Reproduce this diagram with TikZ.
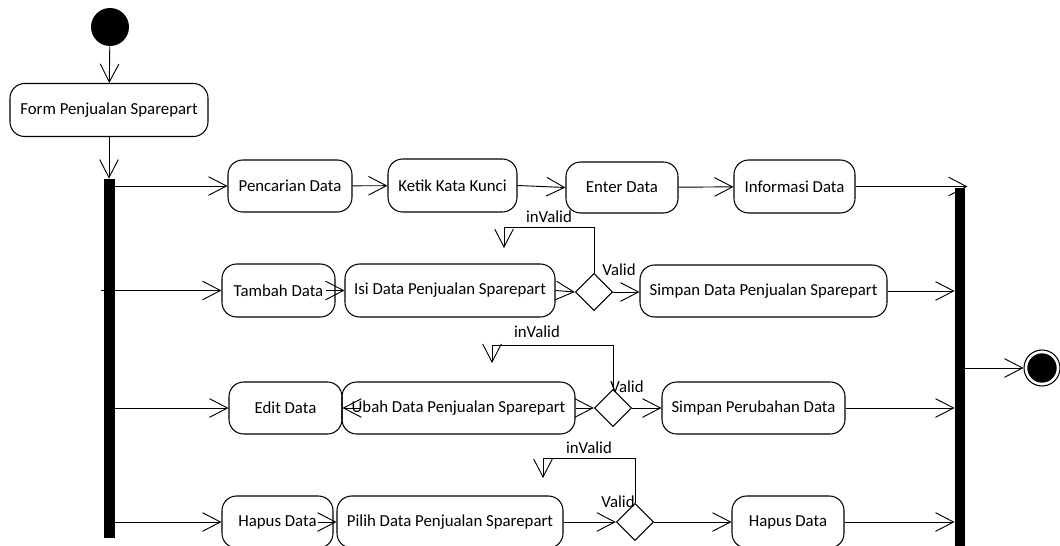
\documentclass[tikz,border=0pt]{standalone}
\usepackage{fontspec}
\setmainfont{Carlito}
\usetikzlibrary{arrows.meta,shapes.geometric}
\begin{document}
\begin{tikzpicture}[x=0.75pt,y=-0.75pt,
  font=\fontsize{12.6}{14}\selectfont,
  line width=0.7pt,
  act/.style={draw,rounded corners=11pt,minimum height=39pt,inner sep=0pt,line width=0.8pt},
  dec/.style={draw,diamond,aspect=1,minimum size=28pt,inner sep=0pt,line width=0.8pt},
  barnode/.style={fill=black,draw=none,inner sep=0pt},
  arr/.style={-{Straight Barb[length=13.5pt,width=14pt,line width=0.7pt]}},
  lbl/.style={inner sep=0pt}]
\useasboundingbox (0,0) rectangle (1060,546);

% start / end
\node[circle,fill=black,minimum size=28.5pt,inner sep=0pt] (start) at (110,27) {};
\node[circle,draw,line width=0.8pt,minimum size=27pt,inner sep=0pt] (end) at (1042,368) {};
\fill (end.center) circle (11pt);

% bars
\node[barnode,minimum width=8.25pt,minimum height=269.25pt] (forkL) at (109.5,358.5) {};
\node[barnode,minimum width=7.5pt,minimum height=271.5pt] (forkR) at (960,369) {};

% activities
\node[act,minimum width=148.5pt,minimum height=39.75pt] (form) at (109,110) {Form Penjualan Sparepart};
\node[act,minimum width=93pt] (penc) at (290,186) {Pencarian Data};
\node[act,minimum width=96.75pt,minimum height=39.75pt] (ketik) at (452.5,185.5) {Ketik Kata Kunci};
\node[act,minimum width=84pt,minimum height=38.25pt] (enter) at (622,187.5) {Enter Data};
\node[act,minimum width=90.75pt,minimum height=39.75pt] (info) at (794.5,186.5) {Informasi Data};

\node[act,minimum width=84.75pt,minimum height=39.75pt] (tambah) at (278.5,290.5) {Tambah Data};
\node[act,minimum width=157.5pt,minimum height=39.75pt] (isi) at (450,290.5) {Isi Data Penjualan Sparepart};
\node[dec] (d1) at (594,292) {};
\node[act,minimum width=185.25pt] (simp1) at (763.5,291) {Simpan Data Penjualan Sparepart};

\node[act,minimum width=84.75pt] (edit) at (285.5,408) {Edit Data};
\node[act,minimum width=174.75pt] (ubah) at (458.5,408) {Ubah Data Penjualan Sparepart};
\node[dec] (d2) at (613,408) {};
\node[act,minimum width=137.25pt] (simpper) at (753.5,408) {Simpan Perubahan Data};

\node[act,minimum width=83.25pt] (hapus1) at (277.5,522) {Hapus Data};
\node[act,minimum width=169.5pt] (pilih) at (450,522) {Pilih Data Penjualan Sparepart};
\node[dec] (d3) at (635,522) {};
\node[act,minimum width=84pt] (hapus2) at (788,522) {Hapus Data};

% labels
\node[lbl] (iv1) at (549,217) {inValid};
\node[lbl] (v1) at (619,270) {Valid};
\node[lbl] (iv2) at (537,332) {inValid};
\node[lbl] (v2) at (627,387) {Valid};
\node[lbl] (iv3) at (589,448) {inValid};
\node[lbl] (v3) at (618,502) {Valid};

% loop coordinates
\coordinate (k1) at (504,227);
\coordinate (c1) at (504,248);
\coordinate (k2) at (492,345);
\coordinate (c2) at (492,363);
\coordinate (k3) at (543,458);
\coordinate (c3) at (543,478);

% connectors
\draw[arr] (start) -- (form);
\draw[arr] (form.south) -- (form.south |- forkL.north);
\draw[arr] (penc.west -| forkL.east) -- (penc.west);
\draw[arr] ([xshift=-2pt]tambah.west -| forkL.west) -- (tambah.west);
\draw[arr] (edit.west -| forkL.east) -- (edit.west);
\draw[arr] (hapus1.west -| forkL.east) -- (hapus1.west);

\draw[arr] (penc) -- (ketik);
\draw[arr] (ketik.east) -- (enter.west);
\draw[arr] (enter) -- (info);
\draw[arr] (info.east) -- ([xshift=1.5pt]info.east -| forkR.east);

\draw[arr] ([xshift=-14pt]isi.west) -- (isi.west);
\draw[arr] (isi.east) -- (d1.west);
\draw[arr] (d1.east) -- (d1.east -| simp1.west);
\draw[arr] (simp1.east) -- (simp1.east -| forkR.west);
\draw[arr] (d1.north) |- (k1) -- (c1);

\draw[arr] ([xshift=14pt]ubah.west) -- (edit.east);
\draw[arr] (ubah.east) -- (d2.west);
\draw[arr] (d2.east) -- (simpper.west);
\draw[arr] (simpper.east) -- (simpper.east -| forkR.west);
\draw[arr] (d2.north) |- (k2) -- (c2);

\draw[arr] ([xshift=-14pt]pilih.west) -- (pilih.west);
\draw[arr] (pilih.east) -- (d3.west);
\draw[arr] (d3.east) -- (hapus2.west);
\draw[arr] (hapus2.east) -- (hapus2.east -| forkR.west);
\draw[arr] (d3.north) |- (k3) -- (c3);

\draw[arr] (end.west -| forkR.east) -- (end.west);
\end{tikzpicture}
\end{document}
